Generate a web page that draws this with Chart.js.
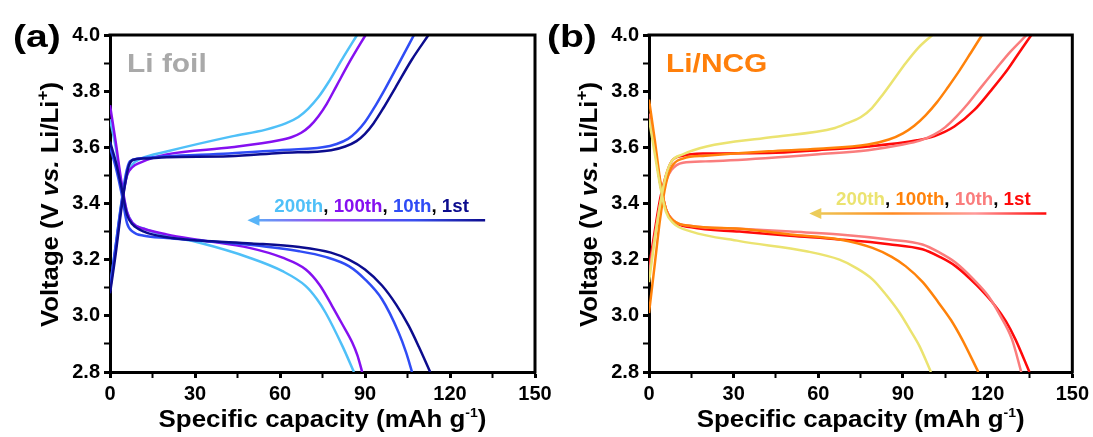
<!DOCTYPE html>
<html>
<head>
<meta charset="utf-8">
<script src="https://cdn.jsdelivr.net/npm/chart.js@4.4.1/dist/chart.umd.min.js"></script>
<style>
html, body { margin: 0; padding: 0; background: #fff; }
#wrap { position: relative; width: 1093px; height: 437px; overflow: hidden; }
canvas { position: absolute; top: 0; }
#cA { left: 0; }
#cB { left: 540px; }
</style>
</head>
<body>
<div id="wrap">
  <canvas id="cA" width="560" height="437"></canvas>
  <canvas id="cB" width="553" height="437"></canvas>
</div>
<script>
const FONT = "'Liberation Sans', Arial, Helvetica, sans-serif";
Chart.defaults.font.family = FONT;
Chart.defaults.color = '#000';

const cycles = ['1st', '10th', '100th', '200th'];
const capLabels = [0, 30, 60, 90, 120, 150];
const voltLabels = [2.8, 3.0, 3.2, 3.4, 3.6, 3.8, 4.0];

// (a) Li foil - charge curves [capacity, voltage]
const foilChg1 = [[0,3.08],[2,3.22],[4,3.38],[5.5,3.48],[6.5,3.53],[8,3.555],[12,3.56],[20,3.565],[42,3.568],[60,3.58],[78,3.59],[83,3.603],[87,3.622],[90,3.648],[93,3.685],[96.5,3.74],[100.7,3.812],[106.5,3.912],[112.4,4.0]];
const foilChg10 = [[0,3.1],[2,3.25],[4,3.4],[5.5,3.5],[7,3.55],[10,3.56],[20,3.568],[42,3.578],[60,3.59],[75,3.6],[80,3.612],[84,3.63],[87,3.655],[90,3.69],[93.5,3.745],[97.2,3.81],[102,3.9],[107.3,4.0]];
const foilChg100 = [[0,3.09],[2,3.24],[4,3.39],[6,3.5],[8,3.53],[10.5,3.545],[20,3.575],[43,3.6],[59.7,3.625],[64,3.636],[67.5,3.652],[70.5,3.675],[73.5,3.71],[76.5,3.755],[80,3.82],[85,3.912],[90.2,4.0]];
const foilChg200 = [[0,3.1],[2,3.25],[4,3.4],[6,3.5],[8,3.54],[11,3.56],[20,3.585],[43,3.639],[55,3.663],[62,3.685],[66.5,3.708],[70,3.738],[73.5,3.778],[77,3.83],[82,3.915],[87.2,4.0]];
// (a) Li foil - discharge curves
const foilDis1 = [[0,3.62],[2,3.55],[4,3.46],[6,3.36],[8,3.325],[12,3.3],[20,3.28],[31.6,3.268],[50,3.258],[66.8,3.245],[78,3.225],[84.3,3.2],[90,3.165],[96,3.108],[101,3.04],[105.4,2.965],[109,2.89],[113,2.8]];
const foilDis10 = [[0,3.6],[2,3.53],[4,3.44],[6,3.33],[8,3.3],[12,3.285],[20,3.277],[31.6,3.268],[50,3.252],[66.8,3.23],[76,3.21],[84.3,3.177],[90,3.13],[96,3.059],[101.9,2.94],[104.5,2.87],[106.6,2.8]];
const foilDis100 = [[0,3.75],[2,3.62],[4,3.48],[6,3.37],[8,3.33],[12,3.31],[20,3.29],[31.6,3.27],[49.2,3.242],[60.9,3.207],[69.1,3.165],[74,3.11],[78.4,3.035],[82,2.97],[85.5,2.905],[87.3,2.86],[89,2.8]];
const foilDis200 = [[0,3.7],[2,3.6],[4,3.47],[6,3.37],[8,3.33],[12,3.31],[20,3.285],[31.6,3.26],[49.2,3.207],[60.9,3.159],[69.1,3.106],[73,3.06],[76.1,3.011],[82,2.893],[86.1,2.8]];

// (b) Li/NCG - charge curves
const ncgChg1 = [[0,3.17],[2,3.3],[4,3.42],[6,3.5],[8,3.55],[12,3.57],[20,3.578],[42.4,3.58],[60,3.59],[77.6,3.603],[95,3.625],[101.2,3.64],[108.2,3.674],[115.3,3.733],[121,3.8],[127,3.876],[131,3.935],[135.5,4.0]];
const ncgChg10 = [[0,3.15],[2,3.28],[4,3.4],[6,3.48],[8,3.52],[12,3.545],[20,3.55],[42.4,3.562],[60,3.575],[77.6,3.59],[90,3.61],[96,3.624],[101,3.645],[105,3.672],[109,3.71],[113,3.755],[118,3.818],[123,3.88],[128,3.94],[133.8,4.0]];
const ncgChg100 = [[0,3.01],[2,3.18],[4,3.35],[6,3.47],[8,3.53],[12,3.56],[20,3.57],[42.4,3.586],[60,3.595],[77.6,3.61],[85,3.628],[90,3.65],[94,3.677],[98,3.714],[102,3.76],[106,3.815],[110,3.873],[114,3.936],[118,4.0]];
const ncgChg200 = [[0,3.12],[2,3.27],[4,3.4],[6,3.5],[8,3.55],[12,3.575],[20.4,3.603],[42.4,3.635],[65.9,3.669],[70,3.685],[75,3.707],[79,3.74],[83,3.79],[87,3.845],[91,3.9],[95.5,3.955],[100.4,4.0]];
// (b) Li/NCG - discharge curves
const ncgDis1 = [[0,3.72],[2,3.6],[4,3.47],[6,3.38],[8.6,3.337],[15,3.315],[32.1,3.3],[50,3.285],[67.5,3.272],[85,3.255],[96.9,3.237],[103,3.21],[108.6,3.177],[116,3.11],[122.7,3.035],[126.5,2.98],[129.8,2.917],[134.8,2.8]];
const ncgDis10 = [[0,3.72],[2,3.6],[4,3.47],[6,3.38],[8.6,3.34],[15,3.32],[32.1,3.31],[50,3.3],[67.5,3.29],[85,3.272],[96.9,3.254],[103,3.225],[108.6,3.19],[115,3.13],[120.3,3.07],[124.5,3.0],[128.6,2.917],[131.9,2.8]];
const ncgDis100 = [[0,3.77],[2,3.63],[4,3.48],[6,3.38],[8.6,3.34],[15,3.32],[32.1,3.31],[50,3.29],[67.5,3.272],[79.2,3.242],[86,3.21],[90.9,3.177],[97,3.12],[102.6,3.047],[107,2.985],[110.9,2.917],[116.7,2.8]];
const ncgDis200 = [[0,3.7],[2,3.58],[4,3.46],[6,3.37],[8.6,3.33],[15,3.3],[32.1,3.266],[55.7,3.23],[67.5,3.2],[73.5,3.17],[79.2,3.13],[84,3.075],[88.8,3.011],[92.5,2.95],[95.8,2.893],[99.9,2.8]];

const foilColors = ['#0c0c8e', '#2f4cf5', '#8510f0', '#4fc0f8'];
const ncgColors = ['#ff0a0a', '#fa7d7d', '#ff820a', '#ebe370'];

function bold(size, italic) {
  return (italic ? 'italic ' : '') + 'bold ' + size + 'px ' + FONT;
}

// draw a row of text runs with different styles, optionally stretched horizontally
function drawRuns(ctx, runs, x, y, align, sx) {
  let total = 0;
  runs.forEach(r => { ctx.font = r.font; r.w = ctx.measureText(r.t).width; total += r.w; });
  ctx.save();
  ctx.translate(x, y);
  ctx.scale(sx || 1, 1);
  ctx.textAlign = 'left';
  ctx.textBaseline = 'alphabetic';
  let cx = align === 'center' ? -total / 2 : 0;
  runs.forEach(r => {
    ctx.font = r.font;
    ctx.fillStyle = r.color || '#000';
    ctx.fillText(r.t, cx, r.dy || 0);
    cx += r.w;
  });
  ctx.restore();
}

const decoPlugin = {
  id: 'deco',
  afterDraw(chart, args, o) {
    const ctx = chart.ctx, a = chart.chartArea;
    const xs = chart.scales.x, ys = chart.scales.y;
    ctx.save();

    // top and right frame
    ctx.strokeStyle = '#000';
    ctx.lineWidth = 3;
    ctx.beginPath();
    ctx.moveTo(a.left - 1.5, a.top);
    ctx.lineTo(a.right, a.top);
    ctx.lineTo(a.right, a.bottom + 1.5);
    ctx.stroke();

    // panel letter
    drawRuns(ctx, [{ t: o.letter, font: bold(32) }], a.left + o.letterDx, 47, 'left', 1.22);

    // sample name
    drawRuns(ctx, [{ t: o.name, font: bold(26), color: o.nameColor }], a.left + 17, 72, 'left', 1.15);

    // cycle legend text
    const runs = [];
    o.order.forEach((i, k) => {
      runs.push({ t: cycles[i], font: bold(18), color: o.colors[i] });
      if (k < o.order.length - 1) runs.push({ t: ', ', font: bold(18), color: '#000' });
    });
    drawRuns(ctx, runs, xs.getPixelForValue(o.legendCap), ys.getPixelForValue(o.legendV), 'left', 1.04);

    // gradient arrow
    const ay = ys.getPixelForValue(o.arrowV);
    const x1 = xs.getPixelForValue(o.arrowFrom), x2 = xs.getPixelForValue(o.arrowTo);
    const g = ctx.createLinearGradient(x2, 0, x1, 0);
    o.arrowStops.forEach(([p, c]) => g.addColorStop(p, c));
    ctx.strokeStyle = g;
    ctx.lineWidth = 2.5;
    ctx.beginPath();
    ctx.moveTo(x1, ay);
    ctx.lineTo(x2 + 8, ay);
    ctx.stroke();
    ctx.fillStyle = o.arrowStops[0][1];
    ctx.beginPath();
    ctx.moveTo(x2, ay);
    ctx.lineTo(x2 + 12, ay - 5.5);
    ctx.lineTo(x2 + 12, ay + 5.5);
    ctx.closePath();
    ctx.fill();

    // x axis title
    drawRuns(ctx, [
      { t: 'Specific capacity (mAh g', font: bold(24) },
      { t: '-1', font: bold(13), dy: -10 },
      { t: ')', font: bold(24) }
    ], (a.left + a.right) / 2, 427, 'center', 1.08);

    // y axis title
    ctx.save();
    ctx.translate(a.left - 52, (a.top + a.bottom) / 2 + 1);
    ctx.rotate(-Math.PI / 2);
    drawRuns(ctx, [
      { t: 'Voltage (V ', font: bold(24) },
      { t: 'vs.', font: bold(24, true) },
      { t: ' Li/Li', font: bold(24) },
      { t: '+', font: bold(16), dy: -10 },
      { t: ')', font: bold(24) }
    ], 0, 0, 'center', 1.07);
    ctx.restore();

    ctx.restore();
  }
};

function makeDatasets(curves, colors) {
  return curves.map(([pts, ci]) => ({
    data: pts.map(([x, y]) => ({ x, y })),
    borderColor: colors[ci],
    borderWidth: 2.5,
    pointRadius: 0,
    fill: false,
    cubicInterpolationMode: 'monotone'
  }));
}

function makeChart(id, curves, colors, yWidth, padRight, deco) {
  return new Chart(document.getElementById(id), {
    type: 'line',
    data: { datasets: makeDatasets(curves, colors) },
    options: {
      responsive: false,
      animation: false,
      events: [],
      layout: { padding: { top: 35, right: padRight, left: 0, bottom: 0 } },
      plugins: { legend: { display: false }, tooltip: { enabled: false }, deco: deco },
      scales: {
        x: {
          type: 'linear', min: 0, max: 150,
          afterFit: s => { s.height = 65; },
          ticks: {
            stepSize: 15, padding: 4, maxRotation: 0, autoSkip: false,
            font: { size: 20, weight: 'bold' },
            callback: v => capLabels.includes(v) ? String(v) : ''
          },
          grid: {
            drawOnChartArea: false, drawTicks: true, tickLength: 6,
            tickColor: '#000',
            tickWidth: c => capLabels.includes(c.tick && c.tick.value) ? 3 : 2
          },
          border: { display: true, color: '#000', width: 3 }
        },
        y: {
          type: 'linear', min: 2.8, max: 4.0,
          afterFit: s => { s.width = yWidth; },
          ticks: {
            stepSize: 0.1, padding: 4, autoSkip: false,
            font: { size: 20, weight: 'bold' },
            callback: v => voltLabels.some(l => Math.abs(l - v) < 1e-6) ? v.toFixed(1) : ''
          },
          grid: {
            drawOnChartArea: false, drawTicks: true, tickLength: 6,
            tickColor: '#000',
            tickWidth: c => c.tick && voltLabels.some(l => Math.abs(l - c.tick.value) < 1e-6) ? 3 : 2
          },
          border: { display: true, color: '#000', width: 3 }
        }
      }
    },
    plugins: [decoPlugin]
  });
}

makeChart('cA', [
  [foilChg1, 0], [foilDis1, 0], [foilChg10, 1], [foilDis10, 1],
  [foilChg100, 2], [foilDis100, 2], [foilChg200, 3], [foilDis200, 3]
], foilColors, 110, 25, {
  letter: '(a)', letterDx: -97, name: 'Li foil', nameColor: '#a9a9a9',
  colors: foilColors, order: [3, 2, 1, 0],
  legendCap: 58, legendV: 3.371,
  arrowFrom: 132.4, arrowTo: 48.5, arrowV: 3.34,
  arrowStops: [[0, '#58b4f8'], [0.35, '#9a40f0'], [0.7, '#3a50f0'], [1, '#0c0c8e']]
});

makeChart('cB', [
  [ncgChg200, 3], [ncgDis200, 3], [ncgChg100, 2], [ncgDis100, 2],
  [ncgChg10, 1], [ncgDis10, 1], [ncgChg1, 0], [ncgDis1, 0]
], ncgColors, 109, 19, {
  letter: '(b)', letterDx: -102, name: 'Li/NCG', nameColor: '#ff7f0a',
  colors: ncgColors, order: [3, 2, 1, 0],
  legendCap: 66.3, legendV: 3.396,
  arrowFrom: 140.8, arrowTo: 56.8, arrowV: 3.364,
  arrowStops: [[0, '#eccc5a'], [0.35, '#ff8a20'], [0.7, '#ff9a9a'], [1, '#ff0a0a']]
});
</script>
</body>
</html>
